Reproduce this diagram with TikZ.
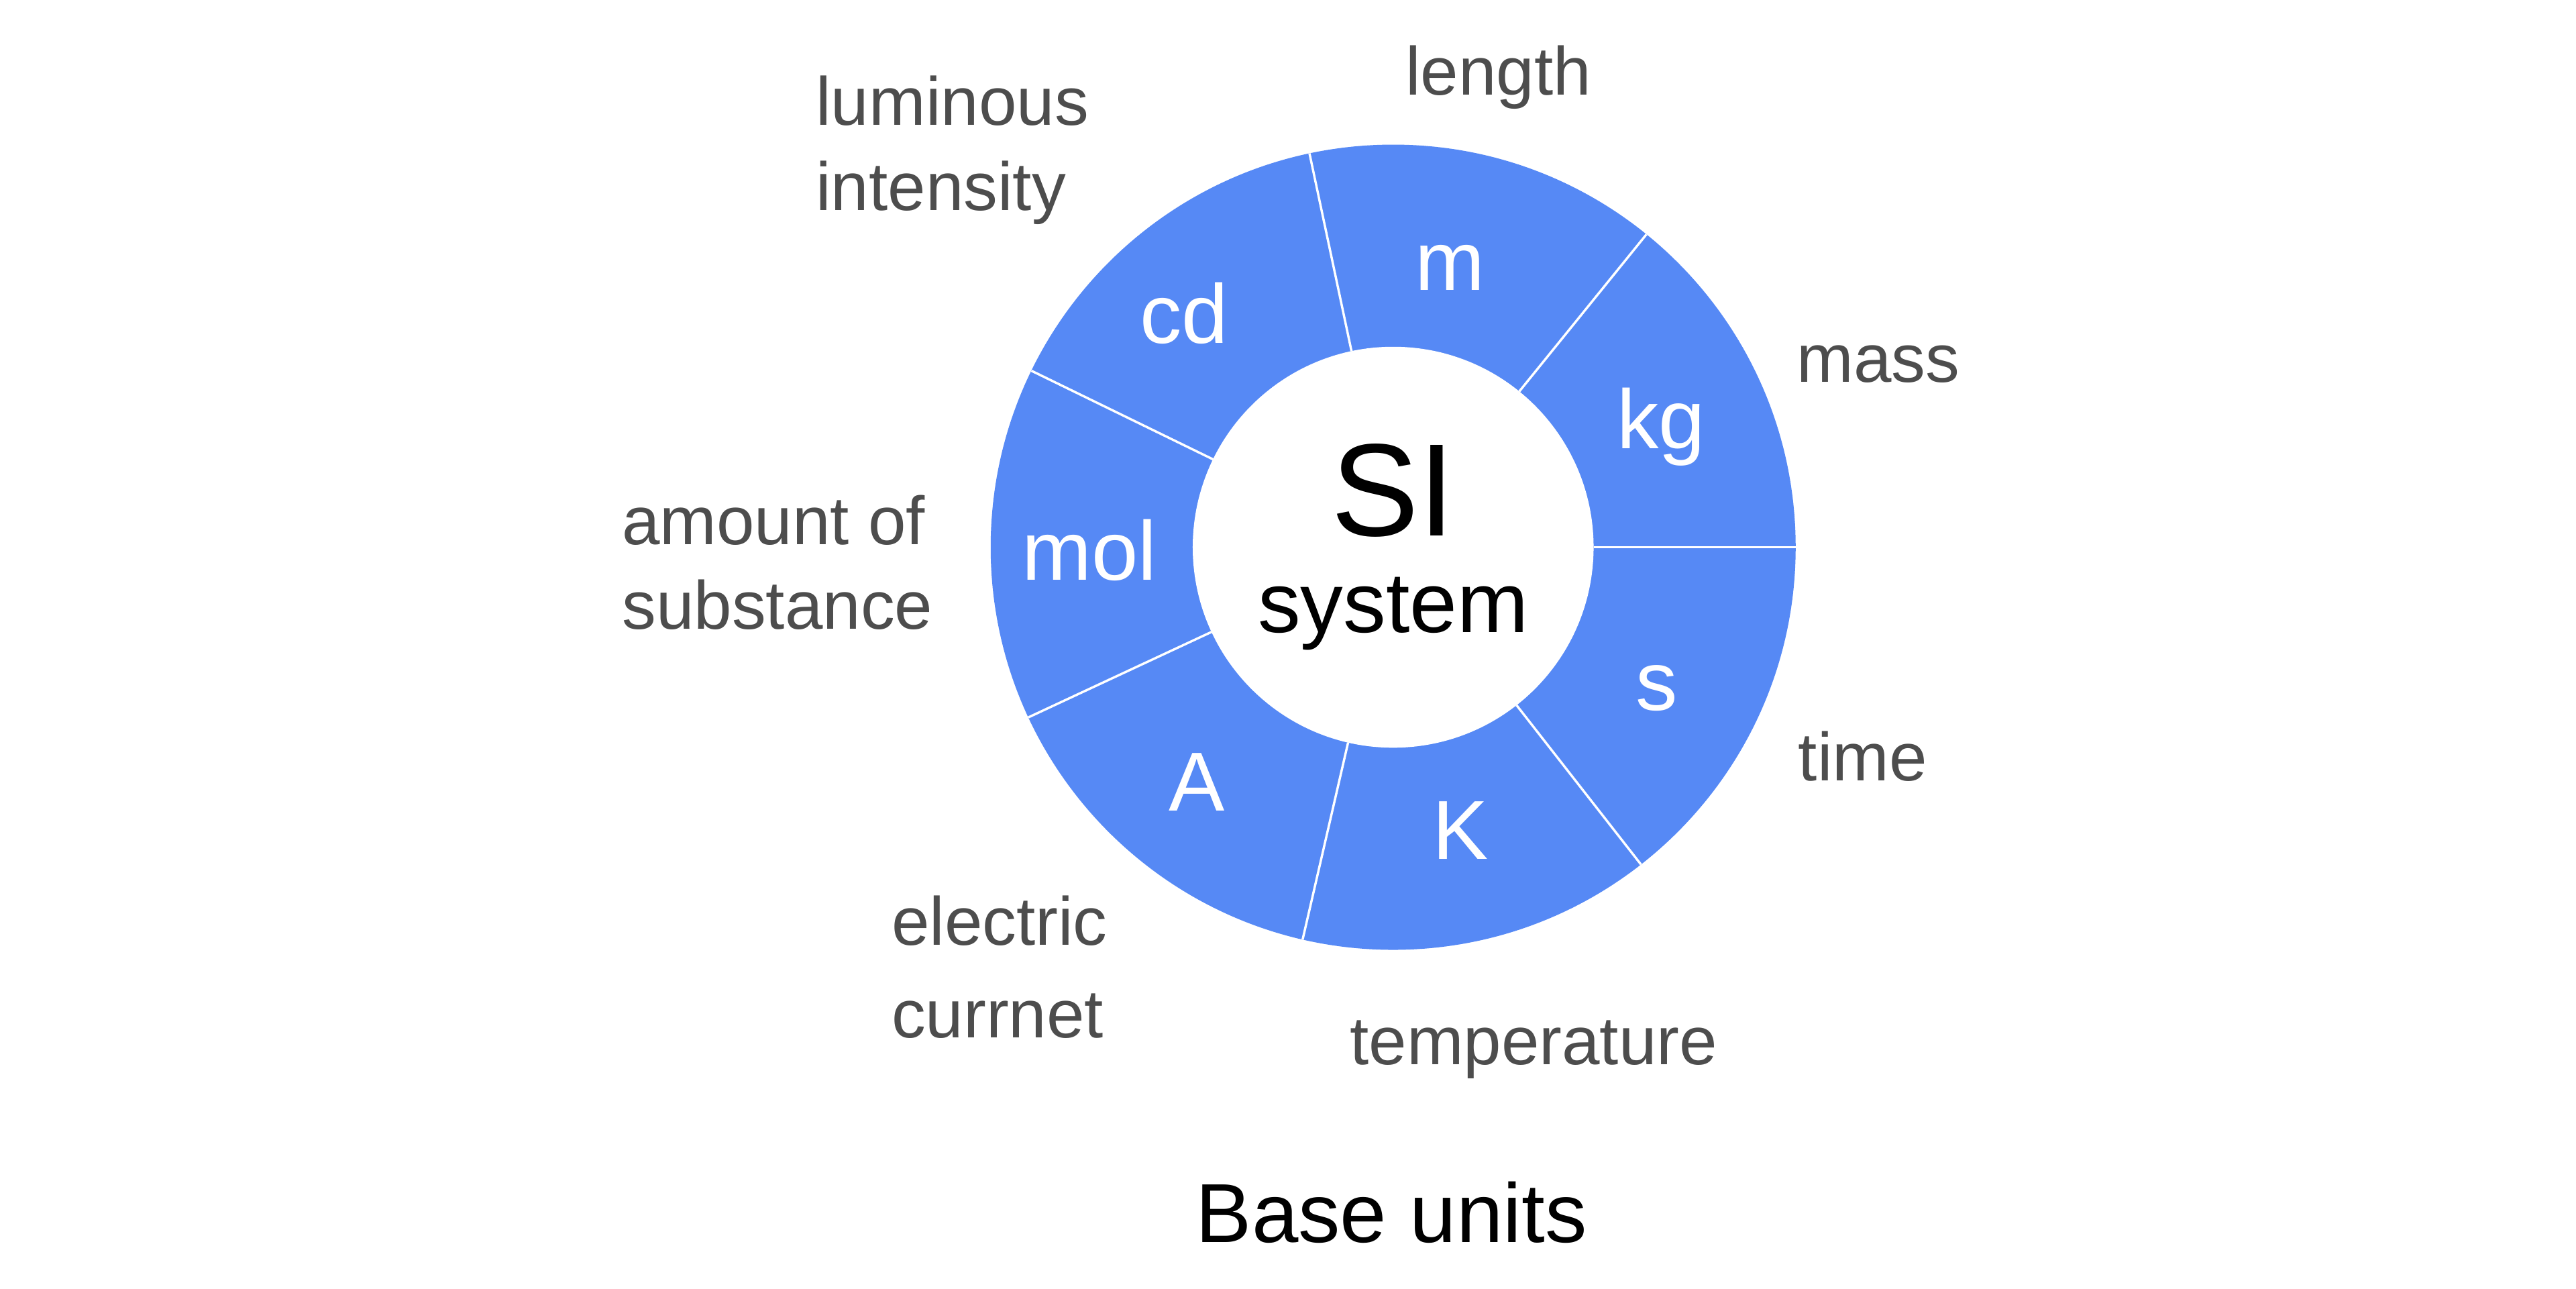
\documentclass[tikz,border=0pt]{standalone}
\usepackage{fontspec}
\setmainfont{Liberation Sans}
\definecolor{unitblue}{RGB}{86,137,245}
\definecolor{lblgrey}{RGB}{77,77,77}

\begin{document}
\begin{tikzpicture}[
    ring/.style={circle, fill=unitblue, inner sep=0pt, outer sep=0pt, minimum size=4.9cm},
    hub/.style={circle, fill=white, inner sep=0pt, outer sep=0pt, minimum size=2.44cm},
    sep/.style={draw=white, line width=0.4pt},
    unit/.style={anchor=base, text=white, inner sep=0pt, font=\fontsize{14.5}{17}\selectfont},
    lbl/.style={anchor=base west, text=lblgrey, inner sep=0pt, align=left, font=\fontsize{11.8}{14.7}\selectfont}]
    \useasboundingbox (0,0) rectangle (15.68,7.84);
    \node [ring] (rim) at (8.48,4.51) {};
    \node [hub] (hub) at (8.48,4.51) {};
    \foreach \a in {0,1,...,6}
        \draw [sep] (hub.{\a*360/7}) -- (rim.{\a*360/7});
    \node [anchor=base, inner sep=0pt, font=\fontsize{22.8}{26}\selectfont] (si) at (8.48,4.58) {SI};
    \node [anchor=base, inner sep=0pt, font=\fontsize{14.8}{17}\selectfont] (sys) at (8.48,3.99) {system};
    \node [unit] (m) at (8.824,6.072) {m};
    \node [unit] (kg) at (10.11,5.11) {kg};
    \node [unit] (s) at (10.085,3.516) {s};
    \node [unit] (K) at (8.89,2.61) {K};
    \node [unit] (A) at (7.286,2.907) {A};
    \node [unit] (mol) at (6.63,4.312) {mol};
    \node [unit] (cd) at (7.208,5.75) {cd};
    \node [lbl, anchor=base] (len) at (9.12,7.262) {length};
    \node [lbl] (mass) at (10.93,5.513) {mass};
    \node [lbl] (time) at (10.94,3.09) {time};
    \node [lbl] (temp) at (8.21,1.36) {temperature};
    \node [lbl, font=\fontsize{11.8}{16.1}\selectfont] (cur) at (5.42,1.524) {electric\\currnet};
    \node [lbl] (amt) at (3.78,4.01) {amount of\\substance};
    \node [lbl] (lum) at (4.96,6.561) {luminous\\intensity};
    \node [anchor=base, inner sep=0pt, font=\fontsize{14.5}{17}\selectfont] (title) at (8.47,0.28) {Base units};
\end{tikzpicture}
\end{document}
